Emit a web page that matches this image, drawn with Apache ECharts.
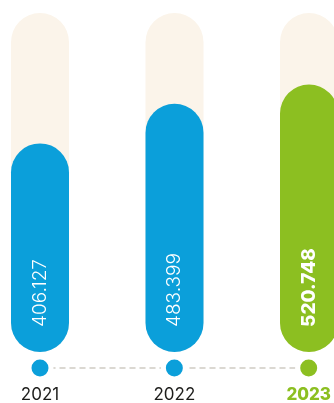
<!DOCTYPE html>
<html>
<head>
<meta charset="utf-8">
<script src="https://cdn.jsdelivr.net/npm/echarts@6/dist/echarts.min.js"></script>
<style>
  html, body { margin: 0; padding: 0; background: #fff; }
  #chart { width: 334px; height: 403px; }
</style>
</head>
<body>
<div id="chart"></div>
<script>
// 数据
const years = ['2021', '2022', '2023']
const values = [406.127, 483.399, 520.748]
const barColors = ['#0b9fda', '#0b9fda', '#8cbf21']
const yMax = 660

const chart = echarts.init(document.getElementById('chart'))

const option = {
  animation: false,
  grid: [
    { left: 40, right: 25, top: 13, bottom: 51 },
    // 时间轴
    { left: 40, right: 25, top: 368, height: 0 }
  ],
  xAxis: [
    {
      type: 'category',
      gridIndex: 0,
      data: years,
      boundaryGap: false,
      axisLine: { show: false },
      axisTick: { show: false },
      axisLabel: { show: false }
    },
    {
      type: 'category',
      gridIndex: 1,
      data: years,
      boundaryGap: false,
      axisLine: {
        lineStyle: { color: '#cfccc4', width: 1.5, type: [5, 5] }
      },
      axisTick: { show: false },
      axisLabel: {
        margin: 18,
        fontSize: 17,
        fontFamily: 'Inter',
        color: '#1d1d1b',
        formatter: (v, i) => i === 2 ? '{hl|' + v + '}' : v,
        rich: {
          hl: { fontSize: 17, fontFamily: 'Inter', fontWeight: 800, color: '#8cbf21' }
        }
      }
    }
  ],
  yAxis: [
    { type: 'value', gridIndex: 0, min: 0, max: yMax, show: false },
    { type: 'value', gridIndex: 1, min: 0, max: 1, show: false }
  ],
  series: [
    {
      type: 'bar',
      xAxisIndex: 0,
      yAxisIndex: 0,
      barWidth: 58,
      showBackground: true,
      backgroundStyle: { color: '#fbf4ea', borderRadius: 29 },
      data: values.map((v, i) => ({
        value: v,
        itemStyle: { color: barColors[i], borderRadius: 29 },
        label: i === 2 ? { fontWeight: 800 } : {}
      })),
      label: {
        show: true,
        position: 'insideBottom',
        rotate: 90,
        align: 'left',
        verticalAlign: 'middle',
        distance: 25,
        fontSize: 19,
        fontFamily: 'Inter',
        fontWeight: 300,
        color: '#fff',
        formatter: p => p.value.toFixed(3)
      }
    },
    {
      type: 'scatter',
      xAxisIndex: 1,
      yAxisIndex: 1,
      symbolSize: 22,
      clip: false,
      silent: true,
      data: values.map((v, i) => ({
        value: [i, 0],
        itemStyle: { color: barColors[i], borderColor: '#fff', borderWidth: 5, opacity: 1 }
      }))
    }
  ]
}

chart.setOption(option)
window.addEventListener('resize', () => chart.resize())
</script>
</body>
</html>
